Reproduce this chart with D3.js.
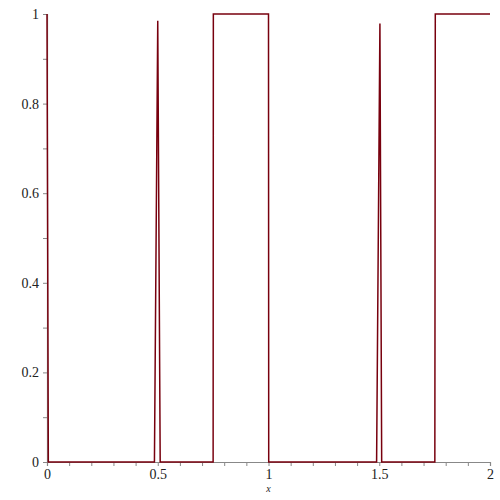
<!DOCTYPE html>
<html>
<meta charset="utf-8">
<script src="https://d3js.org/d3.v7.min.js"></script>
<body style="margin:0">
<script>

var xs = [0, 0.006, 0.485, 0.5, 0.511, 0.75, 0.751, 1.0, 1.001, 1.488, 1.503, 1.511, 1.751, 1.753, 2];
var ys = [1, 0, 0, 0.985, 0, 0, 1, 1, 0, 0, 0.979, 0, 0, 1, 1];
var xTicks = [0, 0.5, 1, 1.5, 2];
var yTicks = [0, 0.2, 0.4, 0.6, 0.8, 1];

var margin = ({top: 14, left: 47, right: 10, bottom: 38});
var width = 500, height = 500;
var serif = "'Liberation Serif', 'Times New Roman', serif";

var svg = d3.select("body").append("svg")
  .attr("width", width)
  .attr("height", height)
  .style("background", "#fff");

var x = d3.scaleLinear().domain([0, 2]).range([margin.left, width - margin.right]);
var y = d3.scaleLinear().domain([0, 1]).range([height - margin.bottom, margin.top]);

var axisColor = "#888";

// minor ticks every 0.1
var xMinor = d3.range(0, 2.001, 0.1);
var yMinor = d3.range(0, 1.001, 0.1);

var xAx = d3.axisBottom(x).tickValues(xMinor).tickSize(4)
  .tickFormat(function(d){ var r = Math.round(d*10)/10; return xTicks.indexOf(r) >= 0 ? d3.format("~g")(r) : ""; });
var yAx = d3.axisLeft(y).tickValues(yMinor).tickSize(4)
  .tickFormat(function(d){ var r = Math.round(d*10)/10; return yTicks.indexOf(r) >= 0 ? d3.format("~g")(r) : ""; });

var gx = svg.append("g")
  .attr("transform", `translate(0,${y(0)})`)
  .call(xAx);
var gy = svg.append("g")
  .attr("transform", `translate(${x(0)},0)`)
  .call(yAx);

[gx, gy].forEach(function(g){
  g.attr("font-family", serif).attr("font-size", 14);
  g.select(".domain").attr("stroke", axisColor).attr("stroke-width", 1.2);
  g.selectAll(".tick line").attr("stroke", axisColor);
  g.selectAll("text").attr("fill", "#222");
});
gy.selectAll("text").attr("x", -8);
gx.selectAll("text").attr("y", 7);

svg.append("text")
  .attr("x", x(1))
  .attr("y", height - 8)
  .attr("text-anchor", "middle")
  .attr("font-family", serif)
  .attr("font-style", "italic")
  .attr("font-size", 10)
  .attr("fill", "#222")
  .text("x");

var pts = xs.map(function(d, i){ return [d, ys[i]]; });
var line = d3.line().x(function(d){ return x(d[0]); }).y(function(d){ return y(d[1]); });

svg.append("path")
  .datum(pts)
  .attr("d", line)
  .attr("fill", "none")
  .attr("stroke", "#78000E")
  .attr("stroke-width", 1.5);

</script>
</body>
</html>
